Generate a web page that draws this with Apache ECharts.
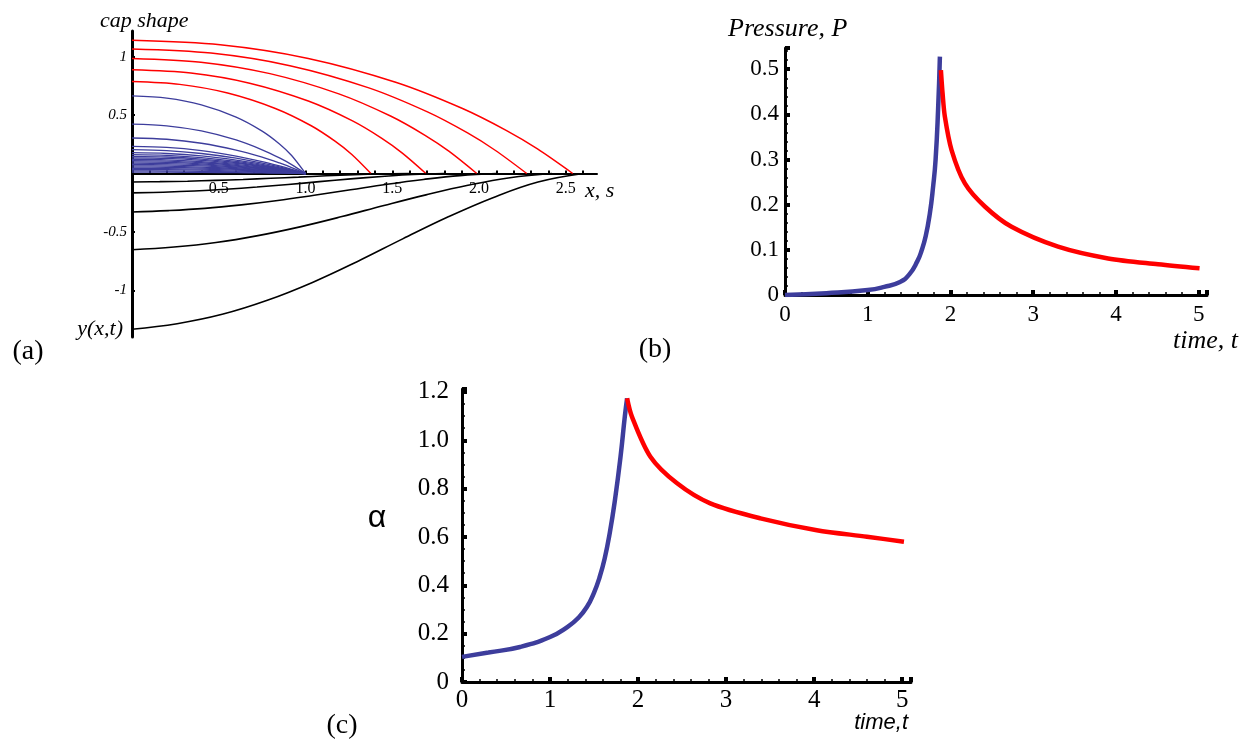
<!DOCTYPE html>
<html><head><meta charset="utf-8">
<script src="https://cdn.jsdelivr.net/npm/echarts@6/dist/echarts.min.js"></script>
<style>html,body{margin:0;padding:0;background:#fff}#c{width:1248px;height:742px}</style>
</head><body><div id="c"></div>
<script>
// ---------- Panel (a): cap shape ----------
const redCapX = [
  [0, 0.508, 1.016, 1.524, 1.905, 2.159, 2.337, 2.54],
  [0, 0.455, 0.91, 1.365, 1.706, 1.934, 2.093, 2.275],
  [0, 0.397, 0.795, 1.192, 1.49, 1.689, 1.828, 1.987],
  [0, 0.339, 0.678, 1.016, 1.271, 1.44, 1.558, 1.694],
  [0, 0.275, 0.551, 0.826, 1.033, 1.17, 1.267, 1.377]
];
const redCapY = [
  [1.14, 1.102, 0.985, 0.779, 0.556, 0.367, 0.21, 0],
  [1.066, 1.031, 0.923, 0.733, 0.525, 0.347, 0.199, 0],
  [0.985, 0.953, 0.855, 0.682, 0.492, 0.327, 0.189, 0],
  [0.888, 0.86, 0.773, 0.62, 0.45, 0.301, 0.175, 0],
  [0.787, 0.763, 0.689, 0.557, 0.409, 0.277, 0.163, 0]
];
const blueCapX = [0, 0.2, 0.4, 0.6, 0.75, 0.85, 0.92, 1];
const blueCapY = [
  [0.664, 0.645, 0.588, 0.483, 0.363, 0.253, 0.154, 0],
  [0.422, 0.408, 0.364, 0.287, 0.203, 0.133, 0.076, 0],
  [0.304, 0.293, 0.259, 0.201, 0.140, 0.090, 0.051, 0],
  [0.233, 0.224, 0.196, 0.149, 0.102, 0.065, 0.036, 0],
  [0.204, 0.196, 0.171, 0.131, 0.089, 0.057, 0.031, 0],
  [0.178, 0.171, 0.150, 0.114, 0.078, 0.049, 0.027, 0],
  [0.161, 0.155, 0.135, 0.103, 0.070, 0.045, 0.025, 0],
  [0.147, 0.141, 0.123, 0.094, 0.064, 0.041, 0.023, 0],
  [0.134, 0.129, 0.113, 0.086, 0.059, 0.037, 0.021, 0],
  [0.122, 0.117, 0.102, 0.078, 0.053, 0.034, 0.019, 0],
  [0.110, 0.106, 0.092, 0.070, 0.048, 0.031, 0.017, 0],
  [0.099, 0.095, 0.083, 0.063, 0.043, 0.027, 0.015, 0],
  [0.088, 0.084, 0.074, 0.056, 0.039, 0.024, 0.014, 0],
  [0.077, 0.074, 0.065, 0.049, 0.034, 0.021, 0.012, 0],
  [0.066, 0.063, 0.055, 0.042, 0.029, 0.018, 0.010, 0],
  [0.055, 0.053, 0.046, 0.035, 0.024, 0.015, 0.008, 0],
  [0.044, 0.042, 0.037, 0.028, 0.019, 0.012, 0.007, 0],
  [0.033, 0.032, 0.028, 0.021, 0.014, 0.009, 0.005, 0],
  [0.022, 0.021, 0.018, 0.014, 0.010, 0.006, 0.003, 0],
  [0.011, 0.011, 0.009, 0.007, 0.005, 0.003, 0.002, 0]
];
const blackX = [
  [0, 0.16, 0.32, 0.48, 0.64, 0.8, 0.96, 1.12, 1.28, 1.44, 1.6],
  [0, 0.18, 0.36, 0.54, 0.72, 0.9, 1.08, 1.26, 1.44, 1.62, 1.8],
  [0, 0.21, 0.42, 0.63, 0.84, 1.05, 1.26, 1.47, 1.68, 1.89, 2.1],
  [0, 0.242, 0.484, 0.726, 0.968, 1.21, 1.452, 1.694, 1.936, 2.178, 2.42],
  [0, 0.26, 0.52, 0.78, 1.04, 1.3, 1.56, 1.82, 2.08, 2.34, 2.6]
];
const blackY = [
  [-0.073, -0.070, -0.066, -0.059, -0.051, -0.041, -0.031, -0.020, -0.011, -0.004, 0],
  [-0.166, -0.160, -0.150, -0.135, -0.116, -0.094, -0.070, -0.046, -0.026, -0.009, 0],
  [-0.33, -0.318, -0.299, -0.269, -0.231, -0.186, -0.139, -0.092, -0.051, -0.018, 0],
  [-0.653, -0.630, -0.591, -0.532, -0.457, -0.369, -0.274, -0.183, -0.101, -0.036, 0],
  [-1.333, -1.286, -1.206, -1.086, -0.933, -0.753, -0.56, -0.373, -0.207, -0.073, 0]
];
const capXLabels = [0.5, 1, 1.5, 2, 2.5];
const capXTicks = [0.1,0.2,0.3,0.4,0.5,0.6,0.7,0.8,0.9,1.0,1.1,1.2,1.3,1.4,1.5,1.6,1.7,1.8,1.9,2.0,2.1,2.2,2.3,2.4,2.5,2.6];
const capYLabels = [-1, -0.5, 0.5, 1];

// ---------- Panel (b): pressure ----------
const pBlueT = [0, 0.5, 1.0, 1.2, 1.39, 1.5, 1.6, 1.65, 1.70, 1.75, 1.79, 1.82, 1.85, 1.872];
const pBlueP = [0, 0.004, 0.011, 0.018, 0.029, 0.045, 0.075, 0.098, 0.13, 0.18, 0.24, 0.30, 0.41, 0.528];
const pRedT = [1.884, 1.905, 1.932, 2.013, 2.174, 2.415, 2.738, 3.30, 3.905, 4.508, 5.01];
const pRedP = [0.498, 0.445, 0.395, 0.321, 0.247, 0.196, 0.151, 0.107, 0.081, 0.068, 0.059];

// ---------- Panel (c): alpha ----------
const aBlueT = [0, 0.3, 0.66, 1.0, 1.2, 1.32, 1.42, 1.5, 1.56, 1.62, 1.68, 1.74, 1.80, 1.85, 1.875];
const aBlueA = [0.104, 0.122, 0.145, 0.186, 0.228, 0.265, 0.311, 0.37, 0.43, 0.51, 0.62, 0.76, 0.93, 1.1, 1.174];
const aRedT = [1.875, 1.93, 2.14, 2.443, 2.82, 3.39, 4.03, 4.60, 5.02];
const aRedA = [1.174, 1.098, 0.932, 0.822, 0.739, 0.677, 0.628, 0.601, 0.58];

const BLUE = '#3d3d9c', RED = '#ff0000';
const SERIF = 'Liberation Serif';
const zip = (xs, ys) => xs.map((x, i) => [x, ys[i]]);

function line(xi, data, color, width, sm) {
  return { type: 'line', xAxisIndex: xi, yAxisIndex: xi, data: data, showSymbol: false, symbol: 'none',
    smooth: sm, lineStyle: { color: color, width: width }, silent: true, animation: false };
}

const series = [];
blueCapY.forEach(ys => series.push(line(0, zip(blueCapX, ys), BLUE, 1.3, 0.3)));
redCapY.forEach((ys, i) => series.push(line(0, zip(redCapX[i], ys), RED, 1.5, 0.3)));
blackY.forEach((ys, i) => series.push(line(0, zip(blackX[i], ys), '#000', 1.6, 0.4)));
series.push(line(1, zip(pBlueT, pBlueP), BLUE, 4.5, 0.5));
series.push(line(1, zip(pRedT, pRedP), RED, 4.5, 0.3));
series.push(line(2, zip(aBlueT, aBlueA), BLUE, 4.5, 0.5));
series.push(line(2, zip(aRedT, aRedA), RED, 4.5, 0.3));

const thick = { show: true, onZero: true, lineStyle: { color: '#000', width: 3 } };

// grid (a): y from -1.4 to 1.22 over 306px -> zero line sits 163.5px above the grid bottom
const option = {
  animation: false,
  backgroundColor: '#fff',
  grid: [
    { left: 132, top: 31, width: 465, height: 306, outerBoundsMode: 'none', containLabel: false },
    { left: 785, top: 48, width: 422, height: 247, outerBoundsMode: 'none', containLabel: false },
    { left: 462, top: 389, width: 449, height: 293, outerBoundsMode: 'none', containLabel: false }
  ],
  xAxis: [
    { type: 'value', gridIndex: 0, min: 0, max: 2.68, position: 'bottom', offset: -163.5,
      axisLine: { show: true, onZero: false, lineStyle: { color: '#000', width: 2 } },
      splitLine: { show: false },
      axisTick: { show: true, inside: true, length: 3, customValues: capXTicks, lineStyle: { color: '#000', width: 2 } },
      axisLabel: { show: true, customValues: capXLabels, margin: 7, color: '#000', fontFamily: SERIF, fontSize: 16,
        formatter: v => v.toFixed(1) } },
    { type: 'value', gridIndex: 1, min: 0, max: 5.1, interval: 1,
      axisLine: thick, splitLine: { show: false },
      axisTick: { show: true, inside: true, length: 5, lineStyle: { color: '#000', width: 4 } },
      minorTick: { show: true, splitNumber: 5, length: 3, lineStyle: { color: '#000', width: 1.5 } },
      axisLabel: { margin: 8, color: '#000', fontFamily: SERIF, fontSize: 23, showMaxLabel: false, showMinLabel: true,
        formatter: v => (Math.abs(v - Math.round(v)) < 1e-6 ? String(Math.round(v)) : '') } },
    { type: 'value', gridIndex: 2, min: 0, max: 5.1, interval: 1,
      axisLine: thick, splitLine: { show: false },
      axisTick: { show: true, inside: true, length: 5, lineStyle: { color: '#000', width: 4 } },
      minorTick: { show: true, splitNumber: 5, length: 3, lineStyle: { color: '#000', width: 1.5 } },
      axisLabel: { margin: 6, color: '#000', fontFamily: SERIF, fontSize: 25, showMaxLabel: false, showMinLabel: true,
        formatter: v => (Math.abs(v - Math.round(v)) < 1e-6 ? String(Math.round(v)) : '') } }
  ],
  yAxis: [
    { type: 'value', gridIndex: 0, min: -1.4, max: 1.22,
      axisLine: { show: true, onZero: false, lineStyle: { color: '#000', width: 3 } },
      splitLine: { show: false },
      axisTick: { show: true, inside: true, length: 3, customValues: capYLabels, lineStyle: { color: '#000', width: 2 } },
      axisLabel: { show: true, customValues: capYLabels, margin: 5, color: '#000', fontFamily: SERIF, fontStyle: 'italic', fontSize: 15,
        formatter: v => String(v) } },
    { type: 'value', gridIndex: 1, min: 0, max: 0.547, interval: 0.1,
      axisLine: thick, splitLine: { show: false },
      axisTick: { show: true, inside: true, length: 5, lineStyle: { color: '#000', width: 4 } },
      minorTick: { show: true, splitNumber: 5, length: 3, lineStyle: { color: '#000', width: 1.5 } },
      axisLabel: { margin: 6, color: '#000', fontFamily: SERIF, fontSize: 23, showMaxLabel: false,
        formatter: v => (v === 0 ? '0' : (Math.abs(v * 10 - Math.round(v * 10)) < 1e-6 ? v.toFixed(1) : '')) } },
    { type: 'value', gridIndex: 2, min: 0, max: 1.212, interval: 0.2,
      axisLine: thick, splitLine: { show: false },
      axisTick: { show: true, inside: true, length: 5, lineStyle: { color: '#000', width: 4 } },
      minorTick: { show: true, splitNumber: 4, length: 3, lineStyle: { color: '#000', width: 1.5 } },
      axisLabel: { margin: 13, color: '#000', fontFamily: SERIF, fontSize: 25, showMaxLabel: false,
        formatter: v => (v === 0 ? '0' : (Math.abs(v * 5 - Math.round(v * 5)) < 1e-6 ? v.toFixed(1) : '')) } }
  ],
  graphic: [
    { type: 'text', x: 28, y: 352, style: { text: '(a)', font: '28px "Liberation Serif"', fill: '#000', align: 'center', verticalAlign: 'middle', textAlign: 'center', textVerticalAlign: 'middle' } },
    { type: 'text', x: 655, y: 350, style: { text: '(b)', font: '28px "Liberation Serif"', fill: '#000', align: 'center', verticalAlign: 'middle', textAlign: 'center', textVerticalAlign: 'middle' } },
    { type: 'text', x: 342, y: 726, style: { text: '(c)', font: '28px "Liberation Serif"', fill: '#000', align: 'center', verticalAlign: 'middle', textAlign: 'center', textVerticalAlign: 'middle' } },
    { type: 'text', x: 100, y: 21, style: { text: 'cap shape', font: 'italic 22px "Liberation Serif"', fill: '#000', align: 'left', verticalAlign: 'middle', textAlign: 'left', textVerticalAlign: 'middle' } },
    { type: 'text', x: 123, y: 329, style: { text: 'y(x,t)', font: 'italic 22px "Liberation Serif"', fill: '#000', align: 'right', verticalAlign: 'middle', textAlign: 'right', textVerticalAlign: 'middle' } },
    { type: 'text', x: 585, y: 191, style: { text: 'x, s', font: 'italic 22px "Liberation Serif"', fill: '#000', align: 'left', verticalAlign: 'middle', textAlign: 'left', textVerticalAlign: 'middle' } },
    { type: 'text', x: 728, y: 29, style: { text: 'Pressure, P', font: 'italic 26px "Liberation Serif"', fill: '#000', align: 'left', verticalAlign: 'middle', textAlign: 'left', textVerticalAlign: 'middle' } },
    { type: 'text', x: 1238, y: 341, style: { text: 'time, t', font: 'italic 26px "Liberation Serif"', fill: '#000', align: 'right', verticalAlign: 'middle', textAlign: 'right', textVerticalAlign: 'middle' } },
    { type: 'text', x: 908, y: 723, style: { text: 'time,t', font: 'italic 22px "Liberation Sans"', fill: '#000', align: 'right', verticalAlign: 'middle', textAlign: 'right', textVerticalAlign: 'middle' } },
    { type: 'text', x: 377, y: 518, style: { text: 'α', font: '32px "Liberation Sans"', fill: '#000', align: 'center', verticalAlign: 'middle', textAlign: 'center', textVerticalAlign: 'middle' } }
  ],
  series: series
};

const chart = echarts.init(document.getElementById('c'), null, { renderer: 'canvas' });
chart.setOption(option);
</script>
</body></html>
